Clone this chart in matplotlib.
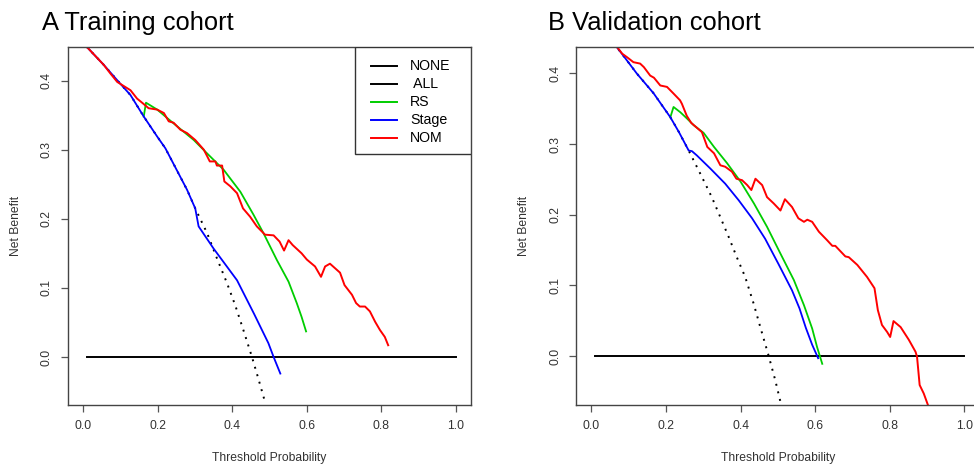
import matplotlib
matplotlib.use("Agg")
import matplotlib.pyplot as plt
from matplotlib.patches import Rectangle

plt.rcParams["font.family"] = ["Liberation Sans", "DejaVu Sans"]

# ---- A: training cohort ----
tr_none_x = [0.01, 1.0]
tr_none_y = [0.0, 0.0]

tr_all_x = [0.01, 0.056, 0.096, 0.1275, 0.163, 0.199, 0.221, 0.250, 0.279, 0.301, 0.333, 0.359, 0.386, 0.408,
            0.430, 0.453, 0.471, 0.489]
tr_all_y = [0.449, 0.4226, 0.398, 0.379, 0.348, 0.319, 0.302, 0.272, 0.242, 0.215, 0.179, 0.143, 0.107, 0.075,
            0.039, 0.000, -0.033, -0.067]

tr_rs_x = [0.163, 0.169, 0.199, 0.243, 0.297, 0.332, 0.377, 0.422, 0.457, 0.484, 0.520, 0.551, 0.573, 0.586, 0.598]
tr_rs_y = [0.348, 0.368, 0.358, 0.338, 0.314, 0.295, 0.271, 0.239, 0.206, 0.179, 0.140, 0.109, 0.078, 0.058, 0.037]

tr_stage_x = [0.01, 0.056, 0.096, 0.1275, 0.163, 0.199, 0.221, 0.250, 0.279, 0.301, 0.310, 0.350, 0.413, 0.459,
              0.497, 0.511, 0.529]
tr_stage_y = [0.449, 0.4226, 0.398, 0.379, 0.348, 0.319, 0.302, 0.272, 0.242, 0.215, 0.189, 0.157, 0.111, 0.062,
              0.020, 0.000, -0.024]

tr_nom_x = [0.010, 0.056, 0.074, 0.092, 0.1275, 0.145, 0.163, 0.176, 0.199, 0.217, 0.230, 0.243, 0.261, 0.279,
            0.301, 0.324, 0.340, 0.355, 0.359, 0.373, 0.379, 0.395, 0.413, 0.429, 0.448, 0.466, 0.488, 0.511,
            0.527, 0.539, 0.551, 0.562, 0.586, 0.600, 0.622, 0.638, 0.649, 0.662, 0.689, 0.701, 0.721, 0.732,
            0.742, 0.756, 0.769, 0.783, 0.796, 0.809, 0.818]
tr_nom_y = [0.449, 0.4226, 0.410, 0.398, 0.386, 0.374, 0.366, 0.360, 0.358, 0.353, 0.341, 0.339, 0.329, 0.324,
            0.314, 0.300, 0.283, 0.283, 0.277, 0.277, 0.254, 0.247, 0.237, 0.215, 0.203, 0.189, 0.177, 0.176,
            0.167, 0.154, 0.169, 0.162, 0.150, 0.141, 0.131, 0.116, 0.131, 0.135, 0.122, 0.104, 0.090, 0.078,
            0.073, 0.073, 0.066, 0.051, 0.039, 0.029, 0.017]

# ---- B: validation cohort ----
va_none_x = [0.01, 1.0]
va_none_y = [0.0, 0.0]

va_all_x = [0.01, 0.050, 0.082, 0.122, 0.167, 0.212, 0.235, 0.256, 0.261, 0.2965, 0.323, 0.3456, 0.368, 0.390,
            0.4125, 0.435, 0.453, 0.475, 0.493, 0.508, 0.512]
va_all_y = [0.478, 0.450, 0.428, 0.400, 0.372, 0.338, 0.317, 0.296, 0.291, 0.2536, 0.225, 0.197, 0.169, 0.140,
            0.112, 0.0745, 0.041, 0.001, -0.034, -0.067, -0.075]

va_rs_x = [0.212, 0.2205, 0.239, 0.257, 0.274, 0.301, 0.329, 0.364, 0.400, 0.436, 0.471, 0.507, 0.543, 0.570,
           0.592, 0.605, 0.619]
va_rs_y = [0.338, 0.3526, 0.345, 0.336, 0.327, 0.316, 0.296, 0.273, 0.247, 0.216, 0.183, 0.145, 0.1075, 0.072,
           0.039, 0.013, -0.011]

va_stage_x = [0.01, 0.050, 0.082, 0.122, 0.167, 0.212, 0.235, 0.256, 0.261, 0.270, 0.283, 0.319, 0.359, 0.395,
              0.431, 0.466, 0.502, 0.538, 0.558, 0.575, 0.592, 0.608]
va_stage_y = [0.478, 0.450, 0.428, 0.400, 0.372, 0.338, 0.317, 0.296, 0.291, 0.290, 0.284, 0.2655, 0.244, 0.2206,
              0.195, 0.166, 0.130, 0.093, 0.0675, 0.040, 0.016, -0.003]

va_nom_x = [0.050, 0.069, 0.083, 0.096, 0.113, 0.131, 0.141, 0.158, 0.168, 0.185, 0.203, 0.2205, 0.238, 0.243,
            0.256, 0.268, 0.279, 0.2965, 0.311, 0.329, 0.346, 0.359, 0.377, 0.389, 0.404, 0.418, 0.429,
            0.440, 0.458, 0.471, 0.489, 0.507, 0.519, 0.538, 0.555, 0.570, 0.579, 0.592, 0.610, 0.632, 0.646,
            0.654, 0.681, 0.690, 0.713, 0.739, 0.759, 0.768, 0.779, 0.793, 0.801, 0.810, 0.829, 0.851, 0.869,
            0.873, 0.880, 0.891, 0.902]
va_nom_y = [0.450, 0.4375, 0.428, 0.423, 0.416, 0.414, 0.409, 0.397, 0.394, 0.383, 0.381, 0.3716, 0.362, 0.357,
            0.340, 0.330, 0.325, 0.317, 0.296, 0.287, 0.270, 0.268, 0.261, 0.251, 0.249, 0.242, 0.235,
            0.251, 0.242, 0.225, 0.216, 0.206, 0.222, 0.211, 0.195, 0.190, 0.193, 0.190, 0.176, 0.164, 0.156,
            0.156, 0.141, 0.140, 0.129, 0.112, 0.096, 0.065, 0.044, 0.034, 0.027, 0.0495, 0.041, 0.023, 0.006,
            -0.001, -0.041, -0.053, -0.069]

legend_labels = ["NONE", " ALL", "RS", "Stage", "NOM"]
GREEN = "#00cd00"
legend_colors = ["black", "black", GREEN, "blue", "red"]

fig = plt.figure(figsize=(9.74, 4.68), dpi=100)
ax1 = fig.add_axes([0.0698, 0.1346, 0.4138, 0.765])
ax2 = fig.add_axes([0.5917, 0.1346, 0.4138, 0.765])


def draw_panel(ax, none, all_, rs, stage, nom, ylim):
    ax.plot(*none, color="black", lw=1.4)
    ax.plot(*all_, color="black", lw=1.4, linestyle=(0, (1, 3)))
    ax.plot(*rs, color=GREEN, lw=1.3)
    ax.plot(*stage, color="blue", lw=1.3)
    ax.plot(*nom, color="red", lw=1.4)
    ax.set_xlim(-0.04, 1.04)
    ax.set_ylim(*ylim)
    ax.set_xticks([0.0, 0.2, 0.4, 0.6, 0.8, 1.0])
    ax.set_yticks([0.0, 0.1, 0.2, 0.3, 0.4])
    ax.set_xticklabels(["0.0", "0.2", "0.4", "0.6", "0.8", "1.0"])
    ax.set_yticklabels(["0.0", "0.1", "0.2", "0.3", "0.4"])
    ax.tick_params(length=5, width=0.9, color="#555555", labelsize=8.7, labelcolor="#333333", pad=6)
    ax.tick_params(axis="y", labelrotation=90)
    plt.setp(ax.get_yticklabels(), va="center")
    for s in ax.spines.values():
        s.set_color("#444444")
        s.set_linewidth(1.0)
    ax.set_xlabel("Threshold Probability", fontsize=8.7, color="#333333", va="center")
    ax.set_ylabel("Net Benefit", fontsize=8.7, color="#333333", va="center")
    ax.xaxis.set_label_coords(0.5, -0.148)
    ax.yaxis.set_label_coords(-0.129, 0.5)


draw_panel(ax1, (tr_none_x, tr_none_y), (tr_all_x, tr_all_y), (tr_rs_x, tr_rs_y),
           (tr_stage_x, tr_stage_y), (tr_nom_x, tr_nom_y), (-0.0695, 0.4486))
draw_panel(ax2, (va_none_x, va_none_y), (va_all_x, va_all_y), (va_rs_x, va_rs_y),
           (va_stage_x, va_stage_y), (va_nom_x, va_nom_y), (-0.0693, 0.4375))

# legend drawn like R's box legend
ax1.add_patch(Rectangle((0.712, 0.701), 0.288, 0.299, transform=ax1.transAxes,
                        facecolor="white", edgecolor="#333333", lw=1.0, zorder=5))
for i, (lab, col) in enumerate(zip(legend_labels, legend_colors)):
    yy = (405 - (66 + 18 * i)) / 358
    ax1.plot([0.752, 0.816], [yy, yy], color=col, lw=1.4, transform=ax1.transAxes, zorder=6)
    ax1.text(0.849, yy, lab, transform=ax1.transAxes, fontsize=10.2, va="center", ha="left", zorder=6)

fig.text(42 / 974, 1 - 30 / 468, "A Training cohort", fontsize=18.4, va="baseline", ha="left")
fig.text(548 / 974, 1 - 30 / 468, "B Validation cohort", fontsize=18.4, va="baseline", ha="left")

fig.savefig("out.png", dpi=100)
